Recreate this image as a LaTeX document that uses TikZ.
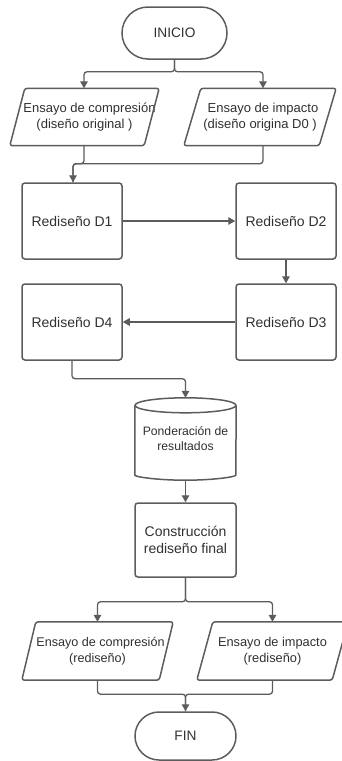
\documentclass[tikz,border=0pt]{standalone}
\usepackage{fontspec}
\setmainfont{Liberation Sans}
\usetikzlibrary{arrows.meta,calc}
\definecolor{linec}{RGB}{92,92,92}
\definecolor{txt}{RGB}{48,48,48}
\begin{document}
\begin{tikzpicture}[x=1pt,y=-1pt,
  shapeline/.style={draw=linec, line width=1.5pt, rounded corners=2.5pt, line join=round},
  line/.style={draw=linec, line width=1.3pt, rounded corners=3pt},
  arr/.style={line, -{Triangle[length=7pt,width=7.5pt]}},
  box/.style={draw=linec, line width=1.5pt, rounded corners=3pt, minimum width=100pt, minimum height=76pt, text=txt, font=\fontsize{14}{17}\selectfont, align=center, inner sep=0pt},
  term/.style={draw=linec, line width=1.5pt, text=txt, font=\fontsize{13.7}{16}\selectfont, inner sep=0pt},
  para/.style={text=txt, font=\fontsize{13}{16}\selectfont, align=center, inner sep=0pt, minimum height=57pt},
  cyltext/.style={text=txt, font=\fontsize{12.2}{15}\selectfont, align=center, inner sep=0pt, minimum width=101pt, minimum height=82pt}
]
\useasboundingbox (0,0) rectangle (342,761);
\clip (0,0) rectangle (342,761);

% terminals
\node[term, minimum width=105pt, minimum height=52pt, rounded corners=26pt] (inicio) at (174.5,33) {INICIO};
\node[term, minimum width=101pt, minimum height=48pt, rounded corners=24pt] (fin) at (185.5,736) {FIN};

% top parallelograms
\node[para, minimum width=149pt] (e1) at (84.5,117) {\hspace*{10pt}Ensayo de compresión\\(diseño original )};
\node[para, minimum width=152pt] (e2) at (260,117) {\hspace*{6pt}Ensayo de impacto\\(diseño origina D0 )};
% bottom parallelograms
\node[para, minimum width=151pt, minimum height=58pt, font=\fontsize{12.6}{15.5}\selectfont] (f1) at (97.5,651) {\hspace*{6pt}Ensayo de compresión\\(rediseño)};
\node[para, minimum width=151pt, minimum height=58pt, font=\fontsize{12.8}{15.5}\selectfont] (f2) at (272.5,651) {Ensayo de impacto\\(rediseño)};

\foreach \n/\s in {e1/15,e2/17,f1/14,f2/16}{
  \draw[shapeline] ($(\n.north west)+(\s,0)$) -- (\n.north east) -- ($(\n.south east)-(\s,0)$) -- (\n.south west) -- cycle;
}

% process boxes
\node[box] (d1) at (72,221) {Rediseño D1};
\node[box] (d2) at (286,221) {Rediseño D2};
\node[box] (d3) at (286,322) {Rediseño D3};
\node[box] (d4) at (72,322) {Rediseño D4};
\node[box, minimum width=101pt, minimum height=74pt] (cons) at (185.5,540) {Construcción\\rediseño final};

% cylinder
\node[cyltext] (cyl) at (185.5,439) {Ponderación de\\resultados};
\draw[shapeline] ($(cyl.north)+(0,7.5)$) ellipse [x radius=50.5, y radius=7.5];
\draw[shapeline] ($(cyl.north west)+(0,7.5)$) -- ($(cyl.south west)+(0,-7.5)$)
  arc[start angle=180, end angle=0, x radius=50.5, y radius=7.5]
  -- ($(cyl.north east)+(0,7.5)$);

% connectors
\draw[arr] (inicio.south) -- ++(0,12) -| ([xshift=-0.5pt]e1.north);
\draw[arr] (inicio.south) -- ++(0,12) -| ([xshift=3pt]e2.north);
\draw[arr] ([xshift=-0.5pt]e1.south) -- ++(0,18) -| ([xshift=1pt]d1.north);
\draw[line] ([xshift=3pt]e2.south) -- ++(0,18) -| ([xshift=1pt]d1.north);
\draw[arr] (d1.east) -- (d2.west);
\draw[arr] (d2.south) -- (d3.north);
\draw[arr] (d3.west) -- (d4.east);
\draw[arr] (d4.south) -- ++(0,18) -| (cyl.north);
\draw[arr] (cyl.south) -- (cons.north);
\draw[arr] (cons.south) -- ++(0,24) -| (f1.north);
\draw[arr] (cons.south) -- ++(0,24) -| (f2.north);
\draw[arr] (f1.south) -- ++(0,14) -| (fin.north);
\draw[line] (f2.south) -- ++(0,14) -| (fin.north);
\end{tikzpicture}
\end{document}
